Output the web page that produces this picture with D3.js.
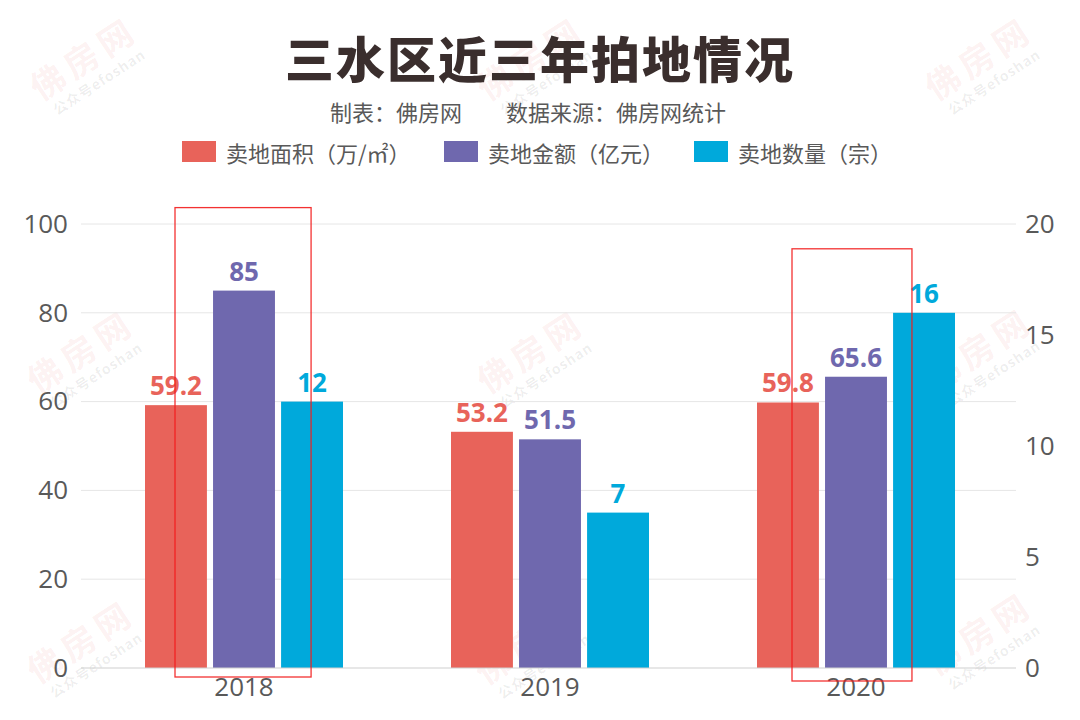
<!DOCTYPE html>
<html><head><meta charset="utf-8">
<script src="https://cdn.jsdelivr.net/npm/d3@7"></script>
<style>
html,body{margin:0;padding:0;background:#fff;}
svg{display:block;}
</style></head>
<body>
<svg id="c" width="1080" height="720"></svg>
<script>
const years = ["2018", "2019", "2020"];
const seriesNames = ["卖地面积（万/㎡）", "卖地金额（亿元）", "卖地数量（宗）"];
const seriesColors = ["#E8635A", "#6F68AE", "#00A9DB"];
const areaValues = [59.2, 53.2, 59.8];
const amountValues = [85, 51.5, 65.6];
const countValues = [12, 7, 16];
const leftTicks = [0, 20, 40, 60, 80, 100];
const rightTicks = [0, 5, 10, 15, 20];
const highlightYears = ["2018", "2020"];

const svg = d3.select("#c");
const CJK = "'Noto Sans CJK SC','Noto Sans',sans-serif";
const NUM = "'Open Sans','Noto Sans',sans-serif";

// watermarks
const wmPos = [[83,57],[530,57],[978,57],[80,350],[530,350],[978,348],[80,640],[528,641],[978,632]];
const wm = svg.append("g");
wmPos.forEach(([x,y])=>{
  const g = wm.append("g").attr("transform",`translate(${x},${y}) rotate(-33)`);
  g.append("text").text("佛房网").attr("text-anchor","middle").attr("dominant-baseline","central")
    .attr("font-family",CJK).attr("font-weight",700).attr("font-size",34).attr("letter-spacing",6)
    .attr("fill","rgba(235,70,70,0.085)");
  g.append("text").text("公众号efoshan").attr("x",0).attr("y",29).attr("text-anchor","middle").attr("dominant-baseline","central")
    .attr("font-family",CJK).attr("font-weight",700).attr("font-size",14).attr("letter-spacing",1)
    .attr("fill","rgba(0,0,0,0.07)");
});

// title
svg.append("text").text("三水区近三年拍地情况").attr("x",540).attr("y",56)
  .attr("text-anchor","middle").attr("dominant-baseline","central")
  .attr("font-family",CJK).attr("font-weight",900).attr("font-size",49).attr("letter-spacing",2)
  .attr("fill","#3A2E2D");
svg.append("text").text("制表：佛房网").attr("x",330).attr("y",111).attr("dominant-baseline","central")
  .attr("font-family",CJK).attr("font-size",22).attr("fill","#595959");
svg.append("text").text("数据来源：佛房网统计").attr("x",506).attr("y",111).attr("dominant-baseline","central")
  .attr("font-family",CJK).attr("font-size",22).attr("fill","#595959");

// legend
const legX = [182, 444, 694];
seriesNames.forEach((n,i)=>{
  svg.append("rect").attr("x",legX[i]).attr("y",141).attr("width",34).attr("height",21).attr("fill",seriesColors[i]);
  svg.append("text").text(n).attr("x",legX[i]+44).attr("y",152).attr("dominant-baseline","central")
    .attr("font-family",CJK).attr("font-size",22).attr("fill","#595959");
});

// scales
const yL = d3.scaleLinear().domain([0,100]).range([668,224]);
const yR = d3.scaleLinear().domain([0,20]).range([668,224]);
const x0 = d3.scaleBand().domain(years).range([91,1009]).padding(0);
const x1 = d3.scaleBand().domain([0,1,2]).range([54,252]).paddingInner(0.09).paddingOuter(0);

// gridlines
svg.append("g").selectAll("line").data(leftTicks.filter(d=>d>0)).join("line")
  .attr("x1",81).attr("x2",1016).attr("y1",d=>yL(d)).attr("y2",d=>yL(d))
  .attr("stroke","#E6E6E6").attr("stroke-width",1);

// left axis
const axL = svg.append("g").attr("transform","translate(81,0)")
  .call(d3.axisLeft(yL).tickValues(leftTicks).tickSize(0).tickPadding(13));
axL.select(".domain").remove();
axL.selectAll("text").attr("font-family",NUM).attr("font-size",26).attr("fill","#595959");
// right axis
const axR = svg.append("g").attr("transform","translate(1016,0)")
  .call(d3.axisRight(yR).tickValues(rightTicks).tickSize(0).tickPadding(9));
axR.select(".domain").remove();
axR.selectAll("text").attr("font-family",NUM).attr("font-size",26).attr("fill","#595959");

// bars
const rows = years.map((y,i)=>({year:y, vals:[
  {s:0, v:areaValues[i], y:yL(areaValues[i])},
  {s:1, v:amountValues[i], y:yL(amountValues[i])},
  {s:2, v:countValues[i], y:yR(countValues[i])}
]}));
const gg = svg.append("g").selectAll("g").data(rows).join("g")
  .attr("transform",d=>`translate(${x0(d.year)},0)`);
gg.selectAll("rect").data(d=>d.vals).join("rect")
  .attr("x",d=>x1(d.s)).attr("width",x1.bandwidth())
  .attr("y",d=>d.y).attr("height",d=>668-d.y)
  .attr("fill",d=>seriesColors[d.s]);
gg.selectAll("text.v").data(d=>d.vals).join("text").attr("class","v")
  .text(d=>d.v).attr("x",d=>x1(d.s)+x1.bandwidth()/2).attr("y",d=>d.y-10)
  .attr("text-anchor","middle").attr("font-family",NUM).attr("font-weight",700)
  .attr("font-size",26).attr("fill",d=>seriesColors[d.s]);

// x axis
svg.append("line").attr("x1",81).attr("x2",1016).attr("y1",668).attr("y2",668).attr("stroke","#D0D0D0").attr("stroke-width",1.2);
const axB = svg.append("g").attr("transform","translate(0,668)")
  .call(d3.axisBottom(x0).tickSize(0).tickPadding(10));
axB.select(".domain").remove();
axB.selectAll("text").attr("font-family",NUM).attr("font-size",26).attr("fill","#595959");

// highlight boxes
const boxSpec = {"2018":[x1(0)+30, x1(2)+30, yL(85)-83, 677], "2020":[x1(0)+35, x1(1)+x1.bandwidth()+25, yL(80)-64, 681]};
highlightYears.forEach(y=>{
  const [a,b,t,bt] = boxSpec[y];
  svg.append("rect").attr("x",x0(y)+a).attr("y",t).attr("width",b-a).attr("height",bt-t)
    .attr("fill","none").attr("stroke","#F21C1C").attr("stroke-width",1.3).attr("stroke-opacity",0.9);
});
</script>
</body></html>
